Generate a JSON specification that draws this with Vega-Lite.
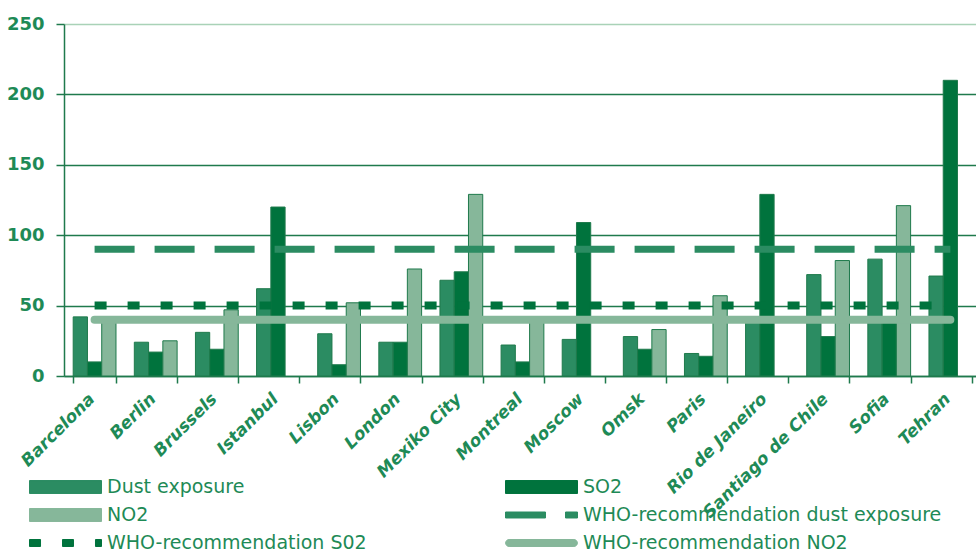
{
  "$schema": "https://vega.github.io/schema/vega-lite/v6.json",
  "autosize": {"type": "none"},
  "padding": {"left": 64, "top": 24, "right": 0, "bottom": 178},
  "width": 912,
  "height": 352,
  "background": "white",
  "config": {
    "font": "DejaVu Sans",
    "view": {"stroke": null}
  },
  "datasets": {
    "bars": [
      {"city": "Barcelona", "series": "Dust exposure", "value": 42},
      {"city": "Barcelona", "series": "SO2", "value": 10},
      {"city": "Barcelona", "series": "NO2", "value": 40},
      {"city": "Berlin", "series": "Dust exposure", "value": 24},
      {"city": "Berlin", "series": "SO2", "value": 17},
      {"city": "Berlin", "series": "NO2", "value": 25},
      {"city": "Brussels", "series": "Dust exposure", "value": 31},
      {"city": "Brussels", "series": "SO2", "value": 19},
      {"city": "Brussels", "series": "NO2", "value": 47},
      {"city": "Istanbul", "series": "Dust exposure", "value": 62},
      {"city": "Istanbul", "series": "SO2", "value": 120},
      {"city": "Lisbon", "series": "Dust exposure", "value": 30},
      {"city": "Lisbon", "series": "SO2", "value": 8},
      {"city": "Lisbon", "series": "NO2", "value": 52},
      {"city": "London", "series": "Dust exposure", "value": 24},
      {"city": "London", "series": "SO2", "value": 24},
      {"city": "London", "series": "NO2", "value": 76},
      {"city": "Mexiko City", "series": "Dust exposure", "value": 68},
      {"city": "Mexiko City", "series": "SO2", "value": 74},
      {"city": "Mexiko City", "series": "NO2", "value": 129},
      {"city": "Montreal", "series": "Dust exposure", "value": 22},
      {"city": "Montreal", "series": "SO2", "value": 10},
      {"city": "Montreal", "series": "NO2", "value": 39},
      {"city": "Moscow", "series": "Dust exposure", "value": 26},
      {"city": "Moscow", "series": "SO2", "value": 109},
      {"city": "Omsk", "series": "Dust exposure", "value": 28},
      {"city": "Omsk", "series": "SO2", "value": 19},
      {"city": "Omsk", "series": "NO2", "value": 33},
      {"city": "Paris", "series": "Dust exposure", "value": 16},
      {"city": "Paris", "series": "SO2", "value": 14},
      {"city": "Paris", "series": "NO2", "value": 57},
      {"city": "Rio de Janeiro", "series": "Dust exposure", "value": 38},
      {"city": "Rio de Janeiro", "series": "SO2", "value": 129},
      {"city": "Santiago de Chile", "series": "Dust exposure", "value": 72},
      {"city": "Santiago de Chile", "series": "SO2", "value": 28},
      {"city": "Santiago de Chile", "series": "NO2", "value": 82},
      {"city": "Sofia", "series": "Dust exposure", "value": 83},
      {"city": "Sofia", "series": "SO2", "value": 38},
      {"city": "Sofia", "series": "NO2", "value": 121},
      {"city": "Tehran", "series": "Dust exposure", "value": 71},
      {"city": "Tehran", "series": "SO2", "value": 210}
    ],
    "who": [
      {"city": "Barcelona", "series": "WHO-recommendation dust exposure", "value": 90},
      {"city": "Berlin", "series": "WHO-recommendation dust exposure", "value": 90},
      {"city": "Brussels", "series": "WHO-recommendation dust exposure", "value": 90},
      {"city": "Istanbul", "series": "WHO-recommendation dust exposure", "value": 90},
      {"city": "Lisbon", "series": "WHO-recommendation dust exposure", "value": 90},
      {"city": "London", "series": "WHO-recommendation dust exposure", "value": 90},
      {"city": "Mexiko City", "series": "WHO-recommendation dust exposure", "value": 90},
      {"city": "Montreal", "series": "WHO-recommendation dust exposure", "value": 90},
      {"city": "Moscow", "series": "WHO-recommendation dust exposure", "value": 90},
      {"city": "Omsk", "series": "WHO-recommendation dust exposure", "value": 90},
      {"city": "Paris", "series": "WHO-recommendation dust exposure", "value": 90},
      {"city": "Rio de Janeiro", "series": "WHO-recommendation dust exposure", "value": 90},
      {"city": "Santiago de Chile", "series": "WHO-recommendation dust exposure", "value": 90},
      {"city": "Sofia", "series": "WHO-recommendation dust exposure", "value": 90},
      {"city": "Tehran", "series": "WHO-recommendation dust exposure", "value": 90},
      {"city": "Barcelona", "series": "WHO-recommendation S02", "value": 50},
      {"city": "Berlin", "series": "WHO-recommendation S02", "value": 50},
      {"city": "Brussels", "series": "WHO-recommendation S02", "value": 50},
      {"city": "Istanbul", "series": "WHO-recommendation S02", "value": 50},
      {"city": "Lisbon", "series": "WHO-recommendation S02", "value": 50},
      {"city": "London", "series": "WHO-recommendation S02", "value": 50},
      {"city": "Mexiko City", "series": "WHO-recommendation S02", "value": 50},
      {"city": "Montreal", "series": "WHO-recommendation S02", "value": 50},
      {"city": "Moscow", "series": "WHO-recommendation S02", "value": 50},
      {"city": "Omsk", "series": "WHO-recommendation S02", "value": 50},
      {"city": "Paris", "series": "WHO-recommendation S02", "value": 50},
      {"city": "Rio de Janeiro", "series": "WHO-recommendation S02", "value": 50},
      {"city": "Santiago de Chile", "series": "WHO-recommendation S02", "value": 50},
      {"city": "Sofia", "series": "WHO-recommendation S02", "value": 50},
      {"city": "Tehran", "series": "WHO-recommendation S02", "value": 50},
      {"city": "Barcelona", "series": "WHO-recommendation NO2", "value": 40},
      {"city": "Berlin", "series": "WHO-recommendation NO2", "value": 40},
      {"city": "Brussels", "series": "WHO-recommendation NO2", "value": 40},
      {"city": "Istanbul", "series": "WHO-recommendation NO2", "value": 40},
      {"city": "Lisbon", "series": "WHO-recommendation NO2", "value": 40},
      {"city": "London", "series": "WHO-recommendation NO2", "value": 40},
      {"city": "Mexiko City", "series": "WHO-recommendation NO2", "value": 40},
      {"city": "Montreal", "series": "WHO-recommendation NO2", "value": 40},
      {"city": "Moscow", "series": "WHO-recommendation NO2", "value": 40},
      {"city": "Omsk", "series": "WHO-recommendation NO2", "value": 40},
      {"city": "Paris", "series": "WHO-recommendation NO2", "value": 40},
      {"city": "Rio de Janeiro", "series": "WHO-recommendation NO2", "value": 40},
      {"city": "Santiago de Chile", "series": "WHO-recommendation NO2", "value": 40},
      {"city": "Sofia", "series": "WHO-recommendation NO2", "value": 40},
      {"city": "Tehran", "series": "WHO-recommendation NO2", "value": 40}
    ]
  },
  "encoding": {
    "x": {
      "field": "city",
      "type": "nominal",
      "sort": null,
      "scale": {
        "domain": ["Barcelona", "Berlin", "Brussels", "Istanbul", "Lisbon", "London", "Mexiko City", "Montreal", "Moscow", "Omsk", "Paris", "Rio de Janeiro", "Santiago de Chile", "Sofia", "Tehran"],
        "paddingInner": 0.3,
        "paddingOuter": 0.11,
        "align": 0.684
      },
      "axis": {
        "title": null,
        "tickBand": "extent",
        "tickSize": 7,
        "tickWidth": 1.5,
        "tickColor": "#1f7a4c",
        "domainColor": "#1f7a4c",
        "domainWidth": 1.5,
        "labelAngle": -45,
        "labelAlign": "right",
        "labelBaseline": "middle",
        "labelFont": "DejaVu Sans",
        "labelFontStyle": "italic",
        "labelFontWeight": "bold",
        "labelFontSize": 17,
        "labelColor": "#1e8a56",
        "labelPadding": 13,
        "labelOffset": -3,
        "labelOverlap": false,
        "labelLimit": 0
      }
    },
    "y": {
      "field": "value",
      "type": "quantitative",
      "scale": {"domain": [0, 250], "nice": false},
      "axis": {
        "title": null,
        "values": [0, 50, 100, 150, 200, 250],
        "grid": true,
        "gridColor": {"condition": {"test": "datum.value === 250", "value": "#a9d2b7"}, "value": "#1f7a4c"},
        "gridWidth": 1.5,
        "domainColor": "#1f7a4c",
        "domainWidth": 1.5,
        "tickColor": "#1f7a4c",
        "tickWidth": 1.5,
        "tickSize": 8,
        "labelFont": "DejaVu Sans",
        "labelFontSize": 18,
        "labelFontWeight": "bold",
        "labelColor": "#1e8a56",
        "labelPadding": 12
      }
    }
  },
  "layer": [
    {
      "data": {"name": "bars"},
      "mark": {"type": "bar", "stroke": "#1f7a4c", "strokeWidth": 1},
      "encoding": {
        "xOffset": {"field": "series", "type": "nominal", "scale": {"domain": ["Dust exposure", "SO2", "NO2"], "paddingInner": 0, "paddingOuter": 0}},
        "color": {
          "field": "series",
          "type": "nominal",
          "scale": {
            "domain": ["Dust exposure", "SO2", "NO2", "WHO-recommendation dust exposure", "WHO-recommendation S02", "WHO-recommendation NO2"],
            "range": ["#2b8c62", "#00733d", "#86b79a", "#2b8c62", "#00733d", "#86b79a"]
          },
          "legend": {
            "title": null,
            "orient": "none",
            "legendX": -35,
            "legendY": 455,
            "columns": 2,
            "direction": "horizontal",
            "padding": 0,
            "columnPadding": 138,
            "rowPadding": 9,
            "clipHeight": 16,
            "symbolSize": 5184,
            "symbolStrokeWidth": 1,
            "symbolOffset": 0,
            "symbolOpacity": 1,
            "symbolType": {"expr": "datum.value === 'WHO-recommendation dust exposure' ? 'M-1,-0.083H0.111V0.083H-1Z M0.667,-0.083H1V0.083H0.667Z' : datum.value === 'WHO-recommendation S02' ? 'M-1,-0.097H-0.694V0.097H-1Z M-0.083,-0.097H0.222V0.097H-0.083Z M0.833,-0.097H1V0.097H0.833Z' : datum.value === 'WHO-recommendation NO2' ? 'M-0.9,-0.097H0.9A0.097,0.097,0,0,1,0.9,0.097H-0.9A0.097,0.097,0,0,1,-0.9,-0.097Z' : 'M-1,-0.18H1V0.18H-1Z'"},
            "symbolStrokeColor": {"expr": "datum.value === 'WHO-recommendation dust exposure' ? '#2b8c62' : (datum.value === 'SO2' || datum.value === 'WHO-recommendation S02') ? '#00733d' : datum.value === 'WHO-recommendation NO2' ? '#86b79a' : '#1f7a4c'"},
            "labelOffset": 5,
            "labelFont": "DejaVu Sans",
            "labelFontSize": 19,
            "labelColor": "#1e8a56",
            "labelLimit": 0
          }
        }
      }
    },
    {
      "data": {"name": "who"},
      "transform": [{"filter": "datum.series === 'WHO-recommendation NO2'"}],
      "mark": {"type": "line", "strokeWidth": 8, "strokeCap": "round"},
      "encoding": {"color": {"field": "series", "type": "nominal"}}
    },
    {
      "data": {"name": "who"},
      "transform": [{"filter": "datum.series === 'WHO-recommendation S02'"}],
      "mark": {"type": "line", "strokeWidth": 8, "strokeDash": [12, 21], "strokeCap": "butt"},
      "encoding": {"color": {"field": "series", "type": "nominal"}}
    },
    {
      "data": {"name": "who"},
      "transform": [{"filter": "datum.series === 'WHO-recommendation dust exposure'"}],
      "mark": {"type": "line", "strokeWidth": 7, "strokeDash": [40, 20], "strokeCap": "butt"},
      "encoding": {"color": {"field": "series", "type": "nominal"}}
    }
  ]
}
